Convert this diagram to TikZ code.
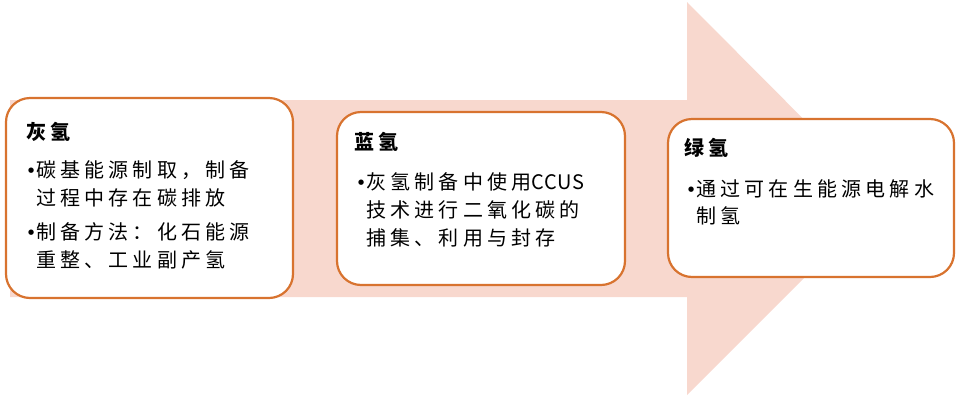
\documentclass[tikz,border=0pt]{standalone}
\usepackage{fontspec}
\setmainfont{Noto Sans CJK SC}[LetterSpace=21]
\newfontfamily\latinfont{Noto Sans CJK SC}[LetterSpace=4]
\newfontfamily\bulletfont{DejaVu Sans}
\definecolor{arrowpink}{HTML}{F8D8CE}
\definecolor{boxorange}{HTML}{D8732F}
\tikzset{
  stagebox/.style={draw=boxorange, line width=2.2pt, fill=white, rounded corners=24pt},
  titletext/.style={anchor=base west, inner sep=0pt, font=\fontsize{20}{24}\selectfont\bfseries},
  linetext/.style={anchor=base west, inner sep=0pt, font=\fontsize{20}{24}\selectfont},
}
\newcommand{\bul}{\makebox[8pt][l]{\raisebox{4.5pt}{\bulletfont\fontsize{7}{7}\selectfont ●}}}
\begin{document}
\begin{tikzpicture}[x=1pt,y=-1pt]
\useasboundingbox (0,0) rectangle (959,400);
% big arrow
\fill[arrowpink] (10,100) -- (687,100) -- (687,2) -- (883,199) -- (687,395) -- (687,297) -- (10,297) -- cycle;
% boxes
\draw[stagebox] (6,98) rectangle (293,298);
\draw[stagebox] (337,112) rectangle (625,285);
\draw[stagebox] (668,119) rectangle (954,277);
% box 1
\node[titletext] (t1) at (26,139) {灰氢};
\node[linetext] (a1) at (28,177) {\bul 碳基能源制取，制备};
\node[linetext] (a2) at (36,205) {过程中存在碳排放};
\node[linetext] (a3) at (28,239) {\bul 制备方法：化石能源};
\node[linetext] (a4) at (36,267) {重整、工业副产氢};
% box 2
\node[titletext] (t2) at (354,149) {蓝氢};
\node[linetext] (b1) at (358,189) {\bul 灰氢制备中使用{\latinfont CCUS}};
\node[linetext] (b2) at (366,217) {技术进行二氧化碳的};
\node[linetext] (b3) at (366,245) {捕集、利用与封存};
% box 3
\node[titletext] (t3) at (684,155) {绿氢};
\node[linetext] (c1) at (688,196) {\bul 通过可在生能源电解水};
\node[linetext] (c2) at (696,223) {制氢};
\end{tikzpicture}
\end{document}
